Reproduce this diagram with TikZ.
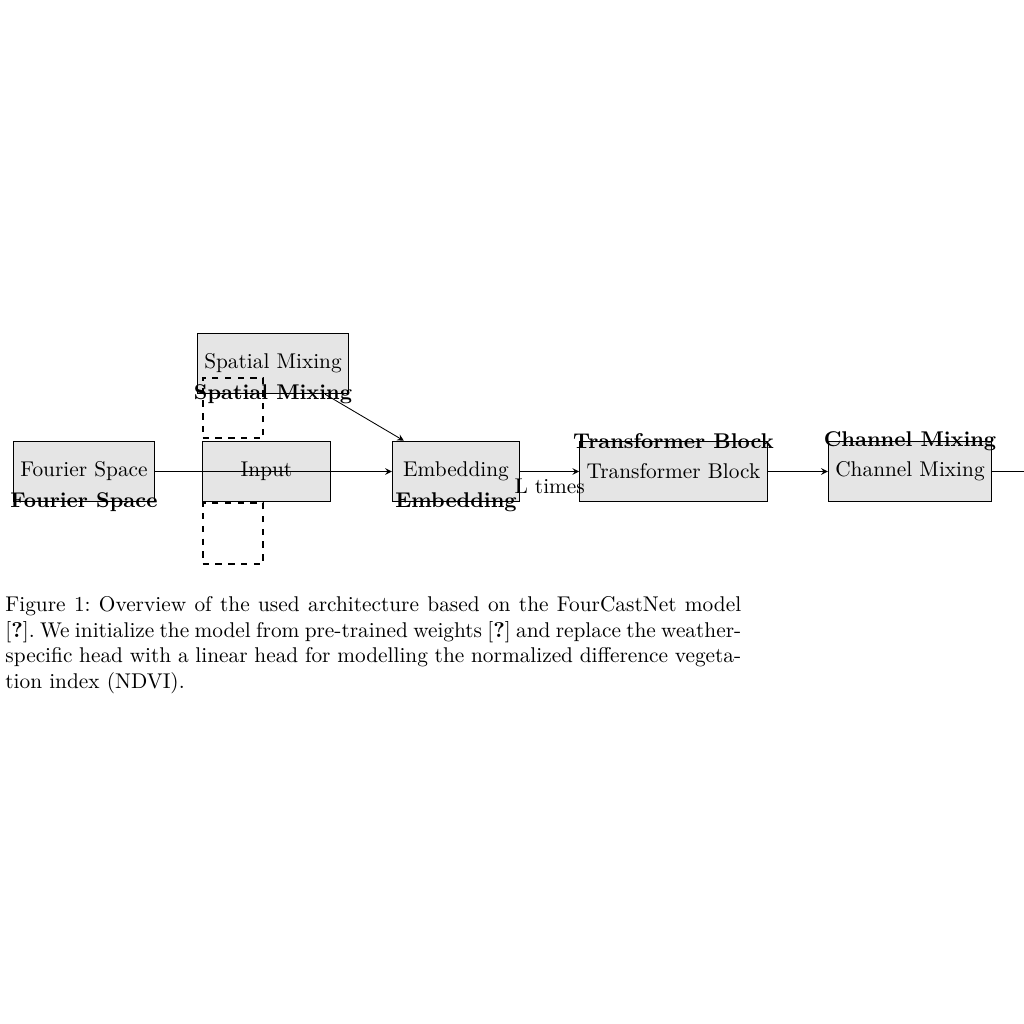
\documentclass[tikz,border=0pt]{standalone}
\begin{document}
\begin{tikzpicture}[x=0.016475cm, y=-0.016475cm,
  block/.style={draw, fill=gray!20, minimum height=1cm, minimum width=2.1cm, inner sep=3.33pt},
  dashbox/.style={draw, dashed, thick, minimum width=1cm, minimum height=1cm, inner sep=0pt},
  tag/.style={font=\bfseries, inner sep=0pt},
  conn/.style={-stealth}]
  \useasboundingbox (0,0) rectangle (1024,1024);
  \clip (0,0) rectangle (1024,1024);

  % processing blocks
  \node[block] (sm)  at (273,363.5) {Spatial Mixing};
  \node[block] (fs)  at (84,471.5)  {Fourier Space};
  \node[block] (inp) at (266.5,471.5) {Input};
  \node[block] (emb) at (456,471.5) {Embedding};
  \node[block] (tb)  at (673.5,471.5) {Transformer Block};
  \node[block] (cm)  at (910,471.5) {Channel Mixing};

  % dashed placeholders around the input
  \node[dashbox] (d1) at (233,408) {};
  \node[dashbox] (d2) at (233,533.5) {};

  % bold titles sitting on the block borders
  \node[tag] (smt)  at (sm.south)  {Spatial Mixing};
  \node[tag] (fst)  at (fs.south)  {Fourier Space};
  \node[tag] (embt) at (emb.south) {Embedding};
  \node[tag] (tbt)  at (tb.north)  {Transformer Block};
  \node[tag] (cmt)  at (cm.north)  {Channel Mixing};

  % connectors
  \coordinate (exit) at (1070,471.5);
  \draw[conn] (fs) -- (emb);
  \draw[conn] (sm) -- (emb);
  \draw[conn] (emb) -- node[below] {L times} (tb);
  \draw[conn] (tb) -- (cm);
  \draw[conn] (cm) -- (exit);

  % caption
  \node[anchor=north west, inner sep=0pt, text width=345pt, align=justify,
        font=\frenchspacing] (cap) at (5,596)
  {Figure 1: Overview of the used architecture based on the FourCastNet model\linebreak{}%
   [\textbf{?}]. We initialize the model from pre-trained weights [\textbf{?}] and replace the weather-\linebreak{}%
   specific head with a linear head for modelling the normalized difference vegetation index (NDVI).};
\end{tikzpicture}
\end{document}
